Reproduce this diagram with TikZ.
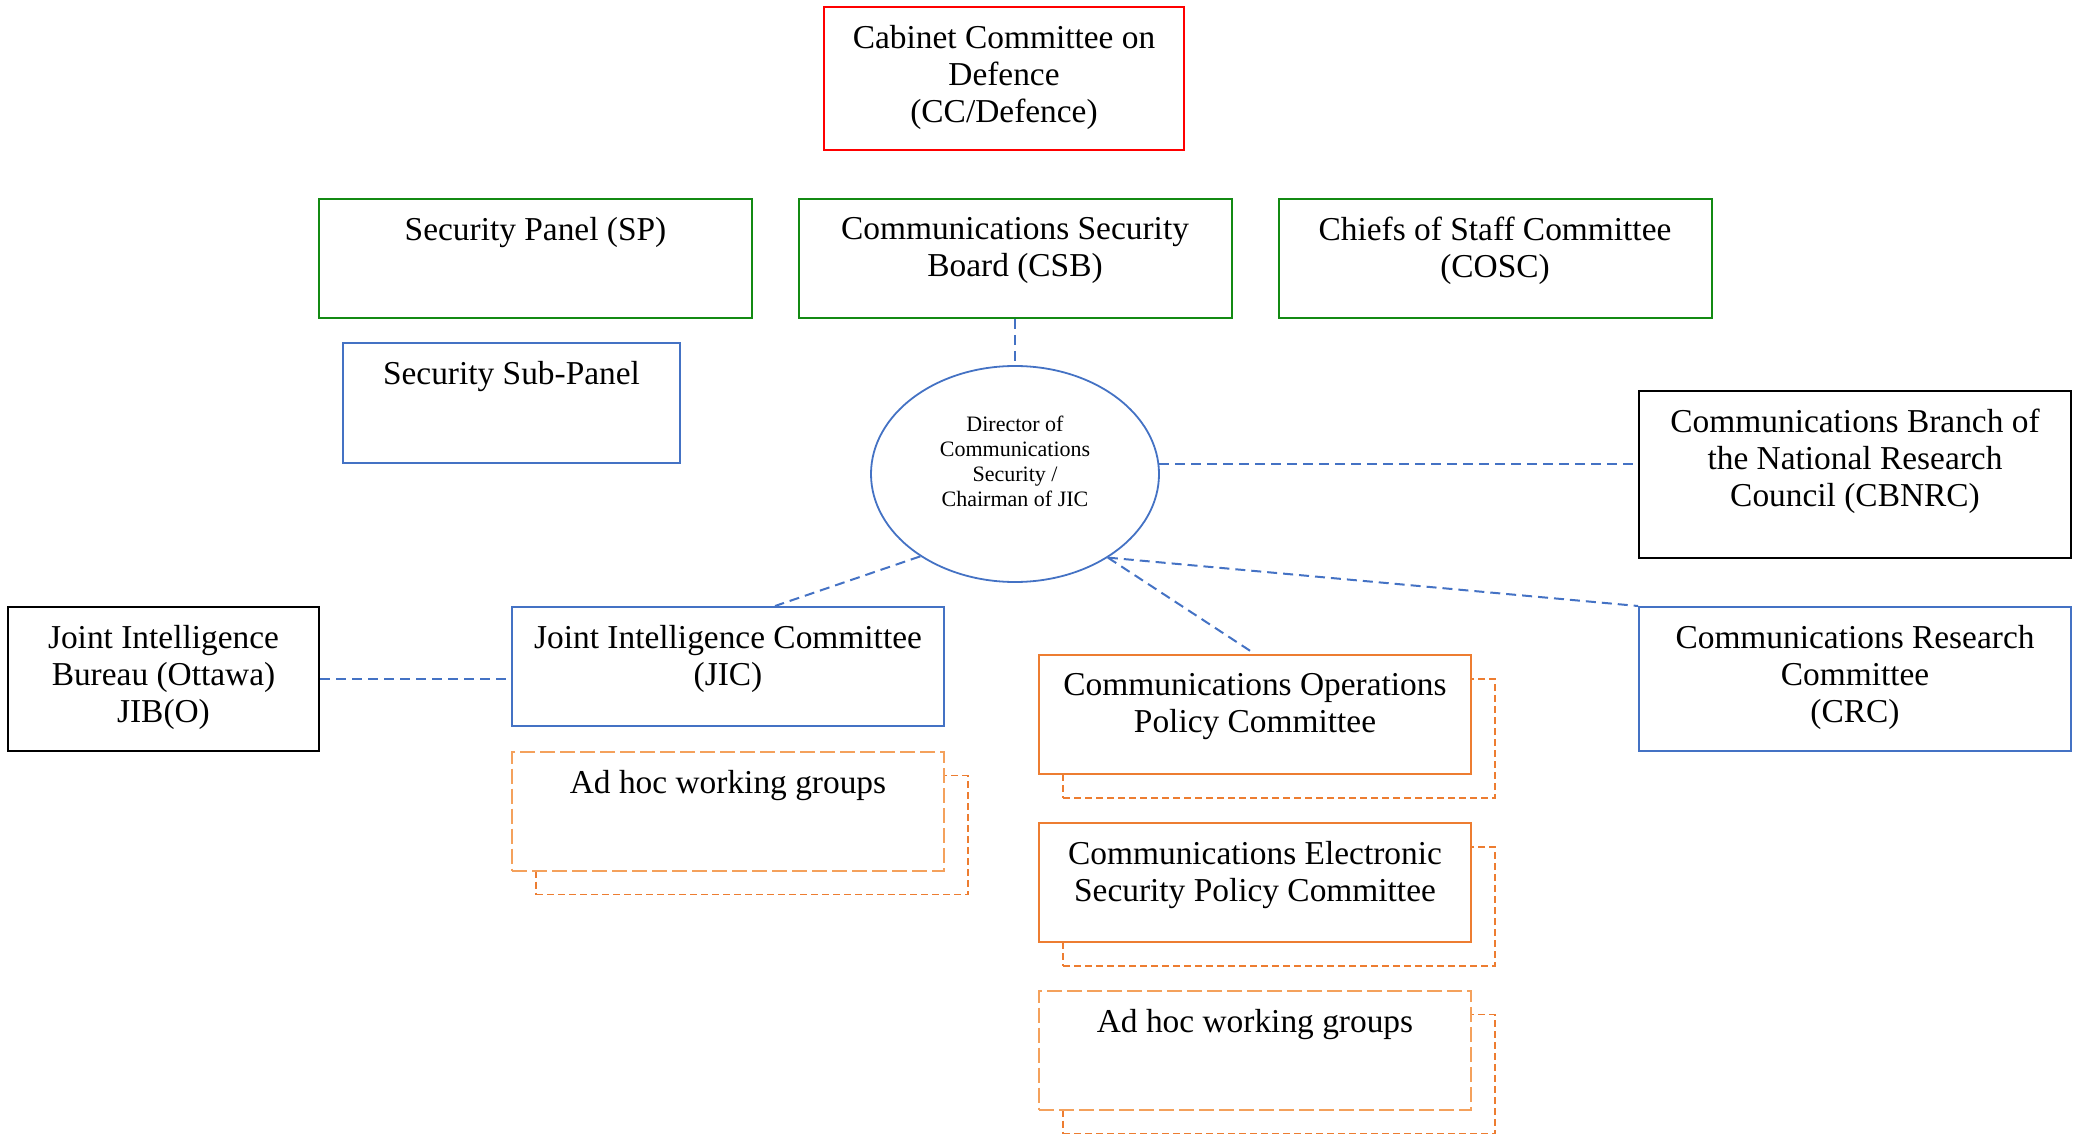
\documentclass[tikz,border=0pt]{standalone}
\usepackage{fontspec}
\setmainfont{Liberation Serif}
\usepackage{xcolor}
\usetikzlibrary{shapes.geometric, positioning, backgrounds}

\definecolor{wordblue}{HTML}{4472C4}
\definecolor{wordorange}{HTML}{ED7D31}
\definecolor{lightorange}{HTML}{F4A15C}
\definecolor{darkgreen}{HTML}{138A13}

\begin{document}
\begin{tikzpicture}[
    x=0.5pt, y=-0.5pt,
    font=\fontsize{16.7}{18.5}\selectfont,
    box/.style = {rectangle, draw, line width=1pt, fill=white, minimum width=216pt, minimum height=59.5pt, inner sep=0pt},
    redbox/.style = {box, draw=red, minimum width=180pt, minimum height=71.5pt},
    greenbox/.style = {box, draw=darkgreen, minimum width=216.5pt},
    bluebox/.style = {box, draw=wordblue},
    blackbox/.style = {box, draw=black, minimum height=72pt},
    orangebox/.style = {box, draw=wordorange},
    adhocbox/.style = {box, draw=lightorange, dash pattern=on 7.5pt off 2.5pt},
    shadowbox/.style = {rectangle, draw=wordorange, line width=0.9pt, dash pattern=on 3.5pt off 2pt, minimum width=216pt, minimum height=59.5pt},
    lbl/.style = {anchor=north, align=center, inner sep=0pt, yshift=-9.5pt},
    director/.style = {ellipse, draw=wordblue, line width=0.9pt, fill=white, minimum width=144pt, minimum height=108pt, inner sep=0pt},
    dirlbl/.style = {anchor=center, align=center, inner sep=0pt, yshift=6.5pt, font=\fontsize{11}{12.5}\selectfont},
    link/.style = {draw=wordblue, line width=1pt, dash pattern=on 5pt off 3pt}
]
\useasboundingbox (0,0) rectangle (2078,1134);

% Top level
\node (cab) [redbox, label={[lbl]north:Cabinet Committee on\\Defence\\(CC/Defence)}] at (1004,78.5) {};

% Committees under cabinet
\node (sp) [greenbox, label={[lbl]north:Security Panel (SP)}] at (535.5,258.5) {};
\node (csb) [greenbox, label={[lbl]north:Communications Security\\Board (CSB)}] at (1015,258.5) {};
\node (cosc) [greenbox, label={[lbl]north:Chiefs of Staff Committee\\(COSC)}] at (1495,258.5) {};
\node (ssp) [bluebox, minimum width=168.5pt, minimum height=60pt, label={[lbl]north:Security Sub-Panel}] at (511.5,403) {};

% Director
\node (dir) [director, label={[dirlbl]center:Director of\\Communications\\Security /\\Chairman of JIC}] at (1015,474) {};

% Outer bodies
\node (cbnrc) [blackbox, minimum height=83.5pt, label={[lbl]north:Communications Branch of\\the National Research\\Council (CBNRC)}] at (1855,474.5) {};
\node (jib) [blackbox, minimum width=155.5pt, label={[lbl]north:Joint Intelligence\\Bureau (Ottawa)\\JIB(O)}] at (163.5,679) {};
\node (crc) [bluebox, minimum height=72pt, label={[lbl]north:Communications Research\\Committee\\(CRC)}] at (1855,679) {};

% JIC and its groups
\node (jic) [bluebox, label={[lbl]north:Joint Intelligence Committee\\(JIC)}] at (728,666.5) {};
\node (adhocjic) [adhocbox, label={[lbl]north:Ad hoc working groups}] at (728,811) {};

% Policy committees
\node (copc) [orangebox, label={[lbl]north:Communications Operations\\Policy Committee}] at (1255,714.5) {};
\node (cespc) [orangebox, label={[lbl]north:Communications Electronic\\Security Policy Committee}] at (1255,882.5) {};
\node (adhocpol) [adhocbox, label={[lbl]north:Ad hoc working groups}] at (1255,1050) {};

% Stacked copies behind
\begin{scope}[on background layer]
\node (adhocjicsh) [shadowbox] at ([xshift=12pt,yshift=-12pt]adhocjic.center) {};
\node (copcsh) [shadowbox] at ([xshift=12pt,yshift=-12pt]copc.center) {};
\node (cespcsh) [shadowbox] at ([xshift=12pt,yshift=-12pt]cespc.center) {};
\node (adhocpolsh) [shadowbox] at ([xshift=12pt,yshift=-12pt]adhocpol.center) {};
\end{scope}

% Links
\draw [link] (csb.south) -- (dir.north);
\draw [link] (dir.4) -- (dir.4 -| cbnrc.west);
\draw [link] (dir.221) -- ([xshift=23.5pt]jic.north);
\draw [link] (dir.318) -- (crc.north west);
\draw [link] (dir.318) -- (copc.north);
\draw [link] (jib.east) -- (jib.east -| jic.west);

\end{tikzpicture}
\end{document}
